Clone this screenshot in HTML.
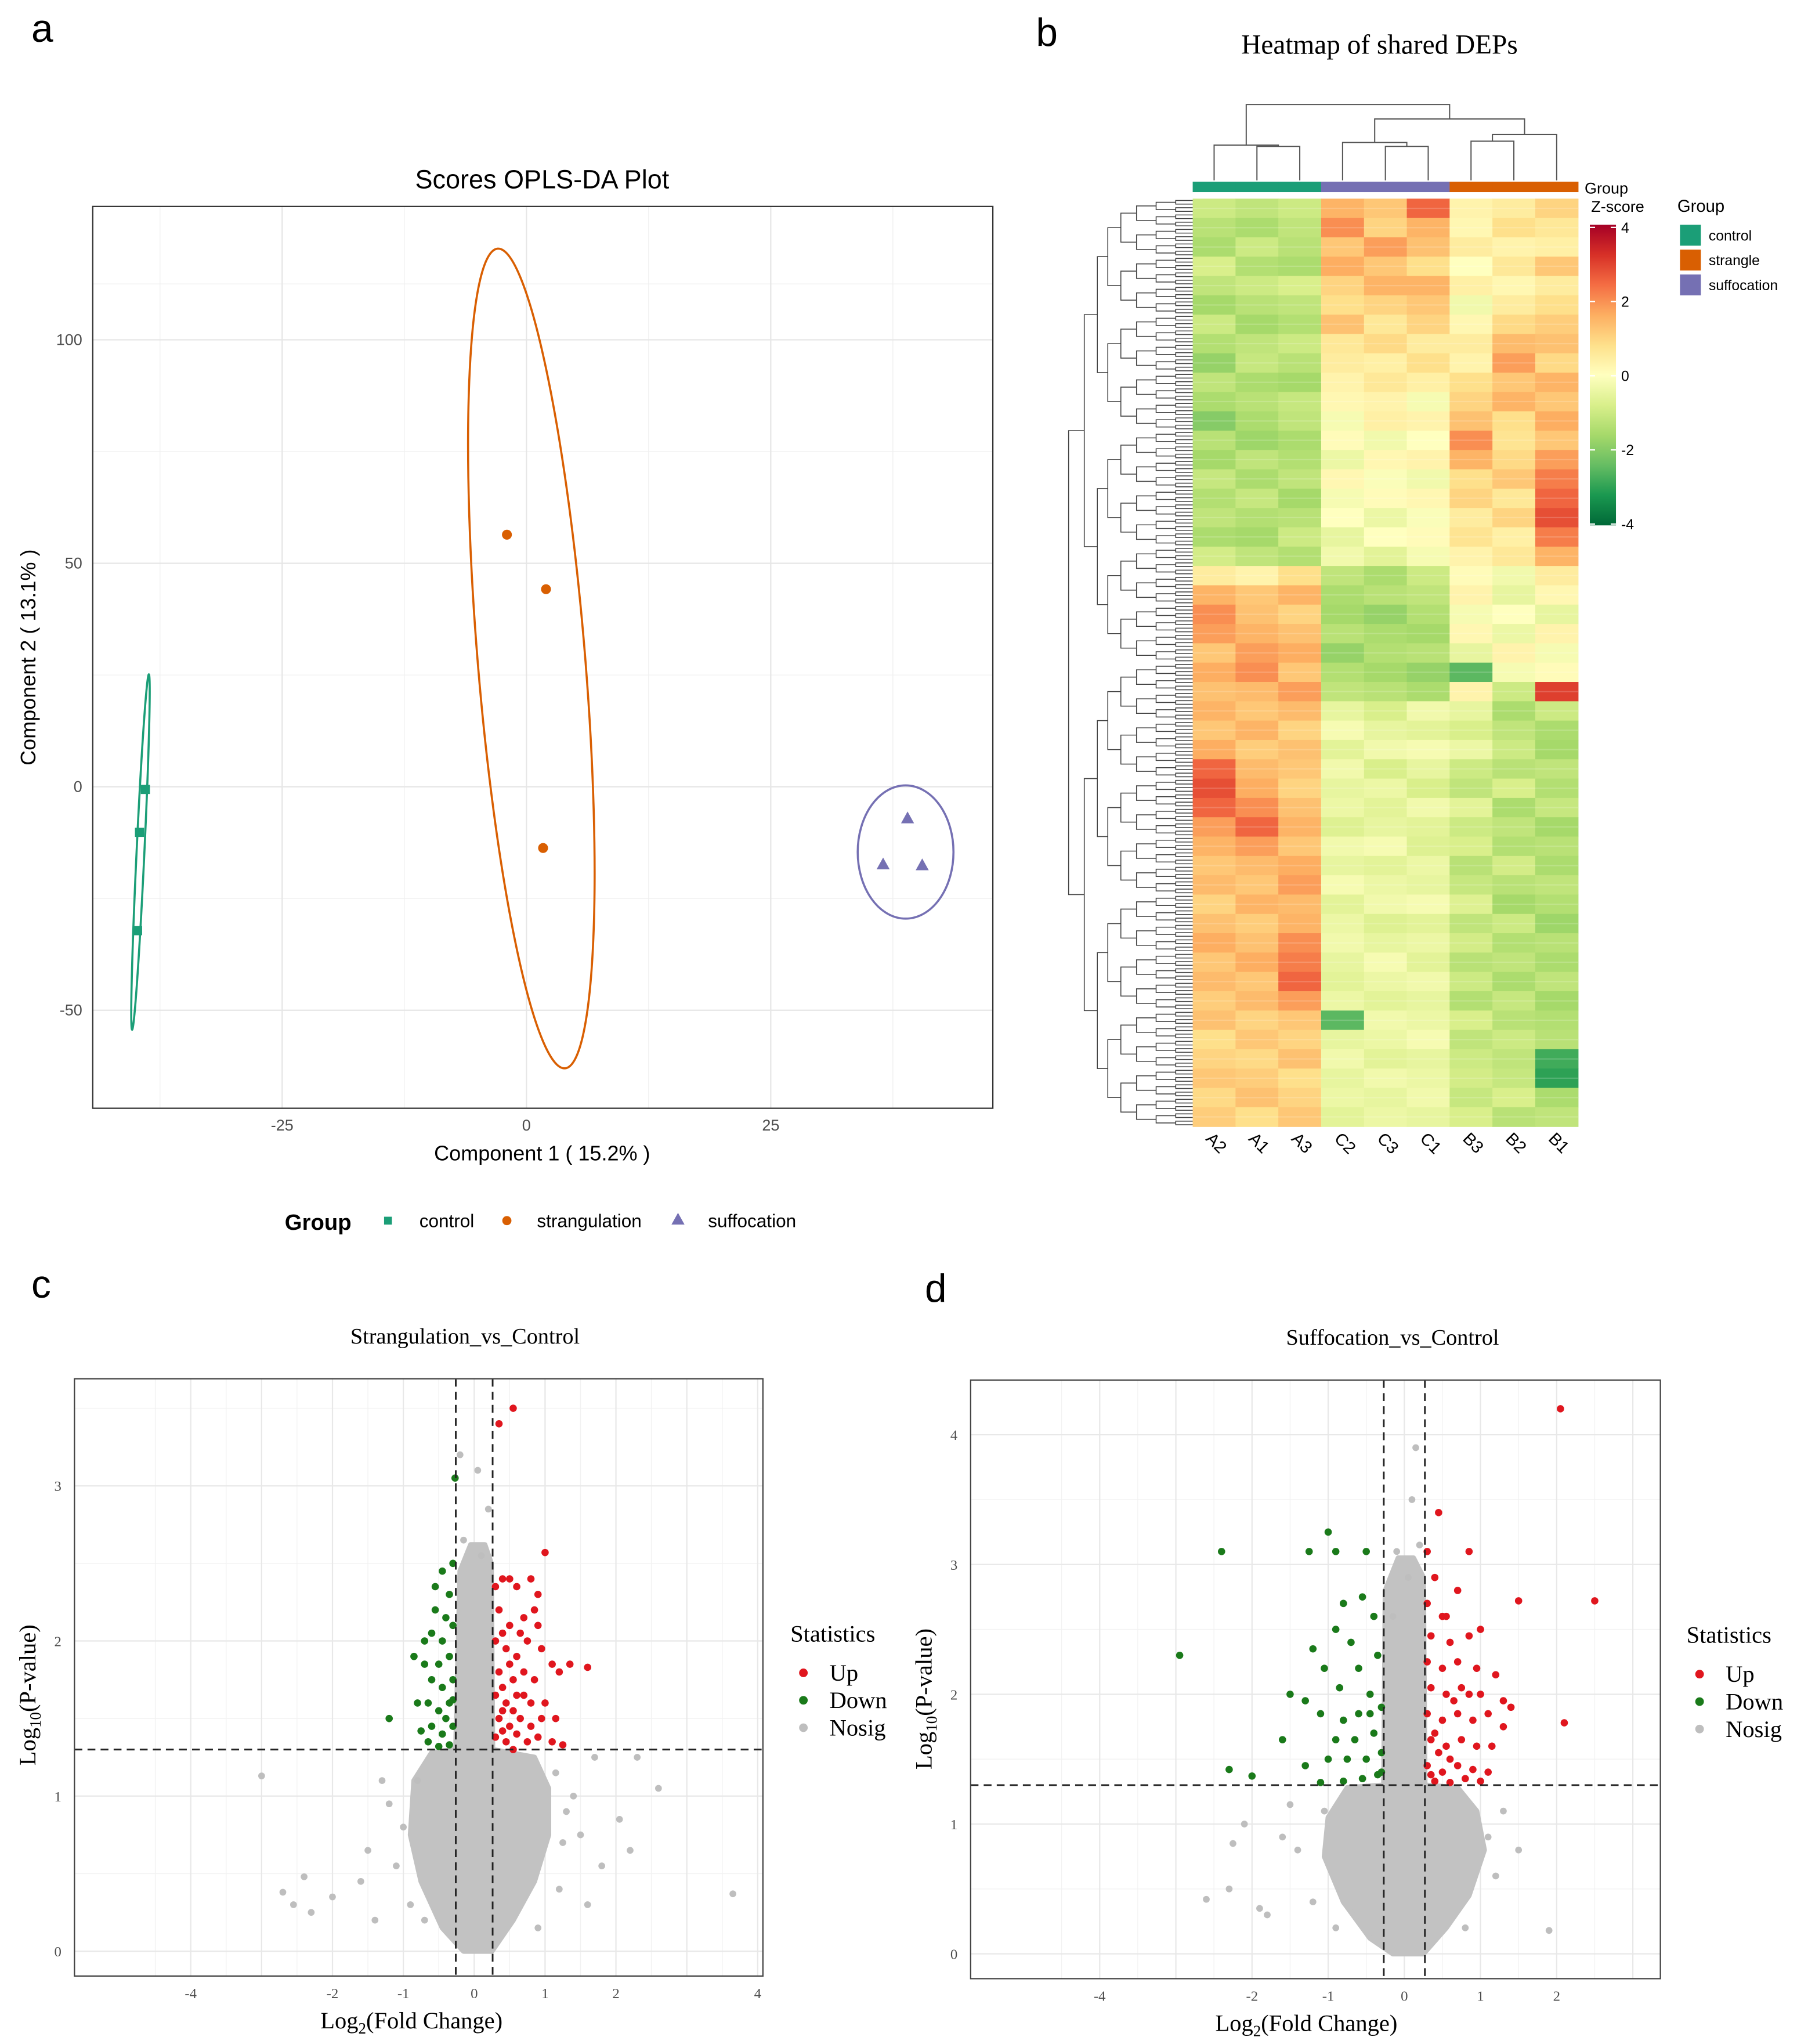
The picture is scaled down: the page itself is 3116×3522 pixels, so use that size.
<!DOCTYPE html>
<html><head><meta charset="utf-8"><style>
html,body{margin:0;padding:0;background:#fff;}
svg{display:block;}
.sans{font-family:"Liberation Sans",sans-serif;}
.serif{font-family:"Liberation Serif",serif;}
</style></head><body>
<svg id="fig" xmlns="http://www.w3.org/2000/svg" width="3116" height="3522" viewBox="0 0 1384 1564" preserveAspectRatio="none">
<rect x="0" y="0" width="1384" height="1564" fill="#fff"/>
</svg>
<script>
// ---------- Panel a data ----------
const aGroups=['control','strangulation','suffocation'];
const aControlX=[-39,-39.6,-39.8];
const aControlY=[-0.6,-10.2,-32.2];
const aStrangX=[-2,2,1.7];
const aStrangY=[56.4,44.2,-13.7];
const aSuffX=[39,36.5,40.5];
const aSuffY=[-7,-17.3,-17.5];
const aEllCx=[-39.5,0.5,38.8];
const aEllCy=[-14.6,28.7,-14.6];
const aEllRx=[0.4,5.5,4.9];
const aEllRy=[39.8,92,14.9];
const aEllRot=[2.7,-4.7,0];
const aXTicks=[-25,0,25];
const aYTicks=[-50,0,50,100];
// ---------- Panel b data ----------
const hmCols=['A2','A1','A3','C2','C3','C1','B3','B2','B1'];
const hmVals=[
[-1,-1.2,-1,1.5,1.2,2.5,0.3,0.5,1],[-1.3,-1.5,-1.2,2,1,1.5,0.2,0.8,0.6],[-1.5,-1,-1.3,1.2,1.8,1.3,0.5,0.3,0.4],
[-0.8,-1.4,-1.5,1.6,1.2,0.8,0,0.6,1.2],[-1.2,-1,-0.8,1,1.5,1.5,0.4,0.2,0.5],[-1.6,-1.3,-1.2,0.8,1,1.2,-0.3,0.5,0.8],
[-1,-1.6,-1.4,1.3,0.6,1,0.2,0.9,1.1],[-1.4,-1.2,-1,0.6,0.9,0.5,0.5,1.4,1.3],[-1.8,-1.1,-1.3,0.5,0.4,0.8,0.3,1.8,0.9],
[-1.2,-1.5,-1.6,0.3,0.6,0.4,0.8,1.2,1.5],[-1.5,-1.3,-1.1,0.2,0.3,-0.2,1,1.5,1.2],[-2,-1.5,-1.2,-0.2,0.4,0.3,1.3,0.8,1.6],
[-1.3,-1.7,-1.5,0.1,-0.3,0,2,0.7,1.2],[-1.6,-1.2,-1.4,-0.4,0.2,0.3,1.5,0.9,1.8],[-1.1,-1.5,-1.2,0.2,-0.1,-0.3,0.8,1.2,2.2],
[-1.4,-1.1,-1.6,-0.2,0.1,0.2,1,0.6,2.5],[-1.2,-1.4,-1.3,0,-0.4,-0.1,0.5,1,2.8],[-1.5,-1.6,-1,-0.5,0,0.1,0.7,0.4,2.2],
[-0.9,-1.2,-1.4,-0.3,-0.6,-0.2,0.3,0.6,1.5],[0.5,0.3,0.8,-1.2,-1.5,-1,0.1,-0.3,0.5],[1.5,1.2,1.5,-1.5,-1.3,-1.2,0.3,-0.5,0.2],
[2,1.3,1,-1.6,-1.8,-1.4,-0.2,0,-0.5],[1.8,1.5,1.3,-1.3,-1.5,-1.6,0.2,-0.4,0.3],[1.2,1.8,1.6,-1.8,-1.4,-1.3,-0.5,0.3,-0.2],
[1.6,2,1.2,-1.4,-1.6,-1.8,-2.5,-0.2,0.1],[1.3,1.4,1.8,-1.2,-1.3,-1.5,0.3,-1,3],[1.5,1.2,1.4,-0.5,-0.8,-0.3,-0.5,-1.5,-1],
[1.2,1.5,1,-0.2,-0.5,-0.6,-0.8,-1.2,-1.5],[1.6,1.1,1.3,-0.6,-0.3,-0.2,-0.4,-1,-1.6],[2.5,1.4,1.2,-0.3,-0.8,-0.5,-1,-1.3,-1.2],
[2.8,1.6,1,-0.5,-0.4,-0.8,-1.2,-0.8,-1.4],[2.5,2,1.3,-0.4,-0.6,-0.3,-0.6,-1.5,-1.1],[1.8,2.5,1.5,-0.7,-0.5,-0.6,-1,-1.2,-1.6],
[1.5,1.8,1.2,-0.3,-0.2,-0.7,-0.8,-1.4,-1.3],[1.2,1.4,1.6,-0.5,-0.6,-0.4,-1.3,-0.9,-1.5],[1.4,1.2,1.8,-0.2,-0.4,-0.5,-1.1,-1.3,-1.2],
[1,1.5,1.4,-0.6,-0.3,-0.2,-0.7,-1.6,-1.4],[1.3,1.1,1.5,-0.4,-0.7,-0.6,-1.2,-1,-1.7],[1.6,1.3,2,-0.3,-0.5,-0.4,-0.9,-1.4,-1.3],
[1.2,1.6,2.2,-0.5,-0.2,-0.6,-1.3,-1.2,-1.5],[1.4,1.2,2.5,-0.6,-0.4,-0.3,-1,-1.5,-1.2],[1.1,1.4,1.8,-0.4,-0.6,-0.5,-1.4,-1.1,-1.6],
[1.3,1,1.2,-2.5,-0.3,-0.4,-0.8,-1.3,-1.4],[0.8,1.2,1,-0.5,-0.4,-0.2,-1.2,-1,-1.3],[1,0.9,1.3,-0.3,-0.6,-0.5,-1,-1.2,-2.8],
[1.2,1.1,0.8,-0.5,-0.3,-0.4,-0.9,-1.1,-3],[0.9,1.3,1,-0.4,-0.5,-0.3,-1.1,-0.8,-1.5],[1.1,0.8,1.2,-0.6,-0.4,-0.5,-0.8,-1.3,-1.2]];
const zTicks=[4,2,0,-2,-4];
// ---------- Panel c data ----------
const cUp=[[0.35,3.4],[0.55,3.5],[1.0,2.57],[1.6,1.83],[1.35,1.85],[0.3,2.35],[0.4,2.4],[0.5,2.4],[0.6,2.35],[0.8,2.4],[0.9,2.3],[0.35,2.2],[0.5,2.1],[0.7,2.15],[0.9,2.1],[0.3,2.0],[0.45,1.95],[0.6,1.9],[0.75,2.0],[0.95,1.95],[1.1,1.85],[0.35,1.8],[0.55,1.75],[0.7,1.8],[0.85,1.75],[1.2,1.8],[0.3,1.65],[0.45,1.6],[0.6,1.65],[0.8,1.6],[1.0,1.6],[0.35,1.5],[0.5,1.45],[0.65,1.5],[0.8,1.45],[0.95,1.5],[1.15,1.5],[0.3,1.38],[0.45,1.35],[0.6,1.4],[0.75,1.35],[0.9,1.38],[1.1,1.35],[1.25,1.33],[0.4,1.55],[0.55,1.3],[0.7,1.65],[0.85,2.2],[0.4,2.05],[0.65,2.05],[0.4,1.7],[0.5,1.85],[0.4,1.42],[0.55,1.55]];
const cDown=[[-0.27,3.05],[-1.2,1.5],[-0.3,2.5],[-0.45,2.45],[-0.35,2.3],[-0.55,2.2],[-0.3,2.1],[-0.45,2.0],[-0.6,2.05],[-0.35,1.9],[-0.5,1.85],[-0.7,1.85],[-0.85,1.9],[-0.3,1.75],[-0.45,1.7],[-0.6,1.75],[-0.35,1.6],[-0.5,1.55],[-0.65,1.6],[-0.8,1.6],[-0.3,1.45],[-0.45,1.4],[-0.6,1.45],[-0.75,1.42],[-0.35,1.33],[-0.5,1.32],[-0.65,1.35],[-0.4,2.15],[-0.55,2.35],[-0.7,2.0],[-0.4,1.5],[-0.3,1.62]];
const cGray=[[-3.0,1.13],[-2.7,0.38],[-2.55,0.3],[-2.4,0.48],[-2.3,0.25],[-2.0,0.35],[-1.5,0.65],[-1.4,0.2],[-1.3,1.1],[-1.2,0.95],[-1.6,0.45],[1.7,1.25],[2.3,1.25],[2.6,1.05],[2.2,0.65],[2.05,0.85],[1.8,0.55],[1.5,0.75],[3.65,0.37],[1.6,0.3],[-1.1,0.55],[1.4,1.0],[0.2,2.85],[0.1,2.55],[-0.15,2.65],[0.05,3.1],[-0.2,3.2],[1.3,0.9],[1.2,0.4],[-0.9,0.3],[-1.0,0.8],[-0.8,1.1],[1.15,1.15],[1.25,0.7],[-0.7,0.2],[0.9,0.15]];
const cCloud=[[-0.15,0],[0.25,0],[0.55,0.2],[0.85,0.45],[1.05,0.75],[1.05,1.05],[0.85,1.25],[0.26,1.3],[0.24,2.5],[0.15,2.62],[-0.05,2.62],[-0.2,2.45],[-0.26,1.3],[-0.6,1.28],[-0.85,1.1],[-0.9,0.75],[-0.75,0.45],[-0.45,0.15]];
// ---------- Panel d data ----------
const dUp=[[2.05,4.2],[2.5,2.72],[1.5,2.72],[2.1,1.78],[0.85,3.1],[0.45,3.4],[0.3,3.1],[0.4,2.9],[0.3,2.7],[0.5,2.6],[0.7,2.8],[0.35,2.45],[0.6,2.4],[0.85,2.45],[1.0,2.5],[0.3,2.25],[0.5,2.2],[0.7,2.25],[0.95,2.2],[1.2,2.15],[0.35,2.05],[0.55,2.0],[0.75,2.05],[1.0,2.0],[1.3,1.95],[1.4,1.9],[0.3,1.85],[0.5,1.8],[0.7,1.85],[0.9,1.8],[1.1,1.85],[1.3,1.75],[0.35,1.65],[0.55,1.6],[0.75,1.65],[0.95,1.6],[1.15,1.6],[0.3,1.45],[0.5,1.4],[0.7,1.45],[0.9,1.42],[1.1,1.4],[0.4,1.33],[0.6,1.32],[0.8,1.35],[1.0,1.33],[0.45,1.55],[0.65,1.95],[0.85,2.0],[0.55,2.6],[0.4,1.7],[0.6,1.5],[0.35,1.38]];
const dDown=[[-2.95,2.3],[-2.4,3.1],[-2.3,1.42],[-1.25,3.1],[-1.0,3.25],[-2.0,1.37],[-0.9,3.1],[-0.5,3.1],[-0.8,2.7],[-0.55,2.75],[-1.05,2.2],[-0.9,2.5],[-0.4,2.6],[-0.7,2.4],[-0.35,2.3],[-0.6,2.2],[-0.85,2.05],[-1.5,2.0],[-1.3,1.95],[-0.45,2.0],[-0.3,1.9],[-0.6,1.85],[-0.8,1.8],[-1.1,1.85],[-0.4,1.7],[-0.65,1.65],[-0.9,1.65],[-1.6,1.65],[-0.3,1.55],[-0.5,1.5],[-0.75,1.5],[-1.0,1.5],[-1.3,1.45],[-0.35,1.38],[-0.55,1.35],[-0.8,1.33],[-1.1,1.32],[-0.45,1.85],[-1.2,2.35],[-0.3,1.4]];
const dGray=[[-2.6,0.42],[-2.3,0.5],[-2.25,0.85],[-1.9,0.35],[-1.8,0.3],[-2.1,1.0],[-1.5,1.15],[-1.4,0.8],[1.9,0.18],[1.3,1.1],[1.5,0.8],[1.2,0.6],[0.15,3.9],[0.1,3.5],[0.2,3.15],[-0.1,3.1],[0.05,2.9],[-0.15,2.6],[-1.6,0.9],[-1.2,0.4],[-1.05,1.1],[1.1,0.9],[-0.9,0.2],[0.8,0.2]];
const dCloud=[[-0.15,0],[0.25,0],[0.55,0.2],[0.85,0.45],[1.05,0.8],[0.95,1.1],[0.7,1.28],[0.27,1.3],[0.25,2.9],[0.12,3.05],[-0.08,3.05],[-0.25,2.8],[-0.27,1.3],[-0.75,1.28],[-1.0,1.05],[-1.05,0.75],[-0.8,0.4],[-0.45,0.12]];
const vTicksX=[-4,-2,-1,0,1,2,4];

const svg=document.getElementById('fig');
const NS='http://www.w3.org/2000/svg';
function mk(tag,attrs,parent){const e=document.createElementNS(NS,tag);for(const k in attrs)e.setAttribute(k,attrs[k]);(parent||svg).appendChild(e);return e;}
function txt(s,attrs,parent){const e=mk('text',attrs,parent);e.textContent=s;return e;}

// ===== Panel a =====
const ga=mk('g',{});


let t=txt('a',{x:24,y:32,'font-size':30,class:'sans'},ga);

t=txt('Scores OPLS-DA Plot',{x:415,y:144,'font-size':20,'text-anchor':'middle',class:'sans'},ga);

const aL=71,aR=760,aT=158,aB=848;
const ax=v=>403+v*7.48, ay=v=>602-v*3.42;
[-37.5,-12.5,12.5,37.5].forEach(v=>mk('line',{x1:ax(v),x2:ax(v),y1:aT,y2:aB,stroke:'#f0f0f0','stroke-width':0.6},ga));
[-25,25,75,112.5].forEach(v=>mk('line',{x1:aL,x2:aR,y1:ay(v),y2:ay(v),stroke:'#f0f0f0','stroke-width':0.6},ga));
aXTicks.forEach(v=>{mk('line',{x1:ax(v),x2:ax(v),y1:aT,y2:aB,stroke:'#e6e6e6','stroke-width':1},ga);
 const l=txt(String(v),{x:ax(v),y:aB+17,'font-size':12,'text-anchor':'middle',fill:'#4d4d4d',class:'sans'},ga);
 });
aYTicks.forEach(v=>{mk('line',{x1:aL,x2:aR,y1:ay(v),y2:ay(v),stroke:'#e6e6e6','stroke-width':1},ga);
 const l=txt(String(v),{x:aL-8,y:ay(v)+4,'font-size':12,'text-anchor':'end',fill:'#4d4d4d',class:'sans'},ga);
 });
let r=mk('rect',{x:aL,y:aT,width:aR-aL,height:aB-aT,fill:'none',stroke:'#333','stroke-width':1},ga);

t=txt('Component 1 ( 15.2% )',{x:415,y:888,'font-size':16,'text-anchor':'middle',class:'sans'},ga);

t=txt('Component 2 ( 13.1% )',{x:0,y:0,'font-size':16,'text-anchor':'middle',class:'sans',transform:'translate(27,503) rotate(-90)'},ga);

const aCol=['#1b9e77','#d95f02','#7570b3'];
aEllCx.forEach((c,i)=>{const e=mk('ellipse',{cx:0,cy:0,rx:aEllRx[i]*7.48,ry:aEllRy[i]*3.42,fill:'none',stroke:aCol[i],'stroke-width':1.6,transform:`translate(${ax(c)},${ay(aEllCy[i])}) rotate(${aEllRot[i]})`},ga);
 });
aControlX.forEach((v,i)=>{const e=mk('rect',{x:ax(v)-3.5,y:ay(aControlY[i])-3.5,width:7,height:7,fill:aCol[0]},ga);
 });
aStrangX.forEach((v,i)=>{const e=mk('circle',{cx:ax(v),cy:ay(aStrangY[i]),r:3.8,fill:aCol[1]},ga);
 });
aSuffX.forEach((v,i)=>{const x=ax(v),y=ay(aSuffY[i]);const e=mk('polygon',{points:`${x},${y-5} ${x-5},${y+4} ${x+5},${y+4}`,fill:aCol[2]},ga);
 });
const lg=mk('g',{},ga);
txt('Group',{x:218,y:941,'font-size':17,'font-weight':'bold',class:'sans'},lg);
let le=mk('rect',{x:294,y:931,width:6,height:6,fill:aCol[0]},lg);
txt('control',{x:321,y:939,'font-size':14,class:'sans'},lg);
le=mk('circle',{cx:388,cy:934,r:3.5,fill:aCol[1]},lg);
txt('strangulation',{x:411,y:939,'font-size':14,class:'sans'},lg);
le=mk('polygon',{points:'519,928 514,937 524,937',fill:aCol[2]},lg);
txt('suffocation',{x:542,y:939,'font-size':14,class:'sans'},lg);

// ===== Panel b =====
const gb=mk('g',{});
t=txt('b',{x:793,y:35,'font-size':30,class:'sans'},gb);
t=txt('Heatmap of shared DEPs',{x:1056,y:41,'font-size':21,'text-anchor':'middle',class:'serif'},gb);

const stops=[[-4,[0,104,55]],[-3.2,[26,152,80]],[-2.4,[102,189,99]],[-1.6,[166,217,106]],[-0.8,[217,239,139]],[0,[255,255,191]],[0.8,[254,224,139]],[1.6,[253,174,97]],[2.4,[244,109,67]],[3.2,[215,48,39]],[4,[165,0,38]]];
function zc(v){v=Math.max(-4,Math.min(4,v));for(let i=0;i<stops.length-1;i++){const a=stops[i],b=stops[i+1];if(v<=b[0]){const f=(v-a[0])/(b[0]-a[0]);return 'rgb('+a[1].map((c,k)=>Math.round(c+(b[1][k]-c)*f)).join(',')+')';}}return 'rgb(165,0,38)';}
const hL=913,hR=1208,hT=152,hB=862;
const cw=(hR-hL)/hmCols.length, rh=(hB-hT)/hmVals.length;
const hx=i=>hL+i*cw, hy=j=>hT+j*rh;
const hg=mk('g',{},gb);
hmVals.forEach((row,j)=>row.forEach((v,i)=>{const c=mk('rect',{x:hx(i),y:hy(j),width:cw+0.3,height:rh+0.3,fill:zc(v)},hg);
 }));
for(let j=0;j<hmVals.length;j++){mk('line',{x1:hL,x2:hR,y1:hy(j)+rh*0.5,y2:hy(j)+rh*0.5,stroke:'#fff','stroke-opacity':0.18,'stroke-width':1},hg);}
const grpColCols=['#1b9e77','#1b9e77','#1b9e77','#7570b3','#7570b3','#7570b3','#d95f02','#d95f02','#d95f02'];
grpColCols.forEach((c,i)=>{const e=mk('rect',{x:hx(i),y:139,width:cw+0.3,height:8,fill:c},gb);});
hmCols.forEach((c,i)=>{const l=txt(c,{x:0,y:0,'font-size':13,class:'sans',transform:`translate(${hx(i)+cw/2-7},${872}) rotate(45)`},gb);
 });
const cx=i=>hx(i)+cw/2;
const dg=mk('g',{stroke:'#555','stroke-width':0.9,fill:'none'},gb);
function br(x1,y1,x2,y2,top){mk('path',{d:`M${x1},${y1}V${top}H${x2}V${y2}`},dg);}
br(cx(1),138,cx(2),138,112);br(cx(0),138,(cx(1)+cx(2))/2,112,111);
br(cx(4),138,cx(5),138,112);br(cx(3),138,(cx(4)+cx(5))/2,112,109);
br(cx(6),138,cx(7),138,108);br((cx(6)+cx(7))/2,108,cx(8),138,103);
br((cx(3)+(cx(4)+cx(5))/2)/2,109,((cx(6)+cx(7))/2+cx(8))/2,103,91);
const cxA=(cx(0)+(cx(1)+cx(2))/2)/2, cxCB=((cx(3)+(cx(4)+cx(5))/2)/2+((cx(6)+cx(7))/2+cx(8))/2)/2;
br(cxA,111,cxCB,91,80);
const rg=mk('g',{stroke:'#444','stroke-width':0.7,fill:'none'},gb);
const N=256, leafH=(hB-hT)/N;
let nodes=[];for(let k=0;k<N;k++)nodes.push({y:hT+(k+0.5)*leafH,x:913});
const lvX=[900,885,870,858,848,840,830,818];
let lvl=0;
while(nodes.length>1){const nx=[];const X=lvX[lvl]||818;for(let k=0;k<nodes.length;k+=2){const a=nodes[k],b=nodes[k+1];mk('path',{d:`M${a.x},${a.y}H${X}V${b.y}H${b.x}`},rg);nx.push({x:X,y:(a.y+b.y)/2});}nodes=nx;lvl++;}
const zg=mk('g',{},gb);
txt('Group',{x:1213,y:148,'font-size':12,class:'sans'},zg);
txt('Z-score',{x:1218,y:162,'font-size':12,class:'sans'},zg);
const defs=mk('defs',{});const lgd=mk('linearGradient',{id:'zg',x1:0,y1:0,x2:0,y2:1},defs);
for(let v=4;v>=-4;v-=0.8){mk('stop',{offset:(4-v)/8,'stop-color':zc(v)},lgd);}
mk('rect',{x:1217,y:172,width:20,height:230,fill:'url(#zg)'},zg);
const zy=v=>174+(4-v)*(401-174)/8;
zTicks.forEach(v=>{mk('line',{x1:1217,x2:1221,y1:zy(v),y2:zy(v),stroke:'#fff'},zg);mk('line',{x1:1233,x2:1237,y1:zy(v),y2:zy(v),stroke:'#fff'},zg);
 const l=txt(String(v),{x:1241,y:zy(v)+4,'font-size':11,class:'sans'},zg);});
const gg=mk('g',{},gb);
txt('Group',{x:1284,y:162,'font-size':13,class:'sans'},gg);
[['control','#1b9e77'],['strangle','#d95f02'],['suffocation','#7570b3']].forEach((p,i)=>{
 const e=mk('rect',{x:1286,y:172+i*19,width:16,height:16,fill:p[1]},gg);
 txt(p[0],{x:1308,y:184+i*19,'font-size':11,class:'sans'},gg);});

// ===== volcano panels =====
function volcano(o){
 const g=mk('g',{});
 let t=txt(o.label,{x:o.labX,y:o.labY,'font-size':30,class:'sans'},g);
 t=txt(o.title,{x:o.titleX,y:o.T-27,'font-size':17,'text-anchor':'middle',class:'serif'},g);
 const X=v=>o.x0+v*o.sx, Y=v=>o.y0-v*o.sy;
 for(let v=-5;v<=4;v+=1){if(X(v+0.5)>o.L&&X(v+0.5)<o.R)mk('line',{x1:X(v+0.5),x2:X(v+0.5),y1:o.T,y2:o.B,stroke:'#f2f2f2','stroke-width':0.6},g);}
 for(let v=0;v<=o.yMax;v+=1){if(Y(v+0.5)>o.T)mk('line',{x1:o.L,x2:o.R,y1:Y(v+0.5),y2:Y(v+0.5),stroke:'#f2f2f2','stroke-width':0.6},g);}
 [-4,-3,-2,-1,0,1,2,3,4].forEach(v=>{if(X(v)>o.L&&X(v)<o.R)mk('line',{x1:X(v),x2:X(v),y1:o.T,y2:o.B,stroke:'#e8e8e8','stroke-width':1},g);});
 for(let v=0;v<=o.yMax;v++){mk('line',{x1:o.L,x2:o.R,y1:Y(v),y2:Y(v),stroke:'#e8e8e8','stroke-width':1},g);
  const l=txt(String(v),{x:o.L-10,y:Y(v)+4,'font-size':11,'text-anchor':'end',fill:'#4d4d4d',class:'serif'},g);}
 vTicksX.forEach(v=>{if(X(v)>o.R+4)return;const l=txt(String(v),{x:X(v),y:o.B+17,'font-size':11,'text-anchor':'middle',fill:'#4d4d4d',class:'serif'},g);});
 const cl=mk('polygon',{points:o.cloud.map(p=>X(p[0])+','+Y(p[1])).join(' '),fill:'#c2c2c2',stroke:'#c2c2c2','stroke-width':4,'stroke-linejoin':'round'},g);
 
 o.gray.forEach(p=>{const c=mk('circle',{cx:X(p[0]),cy:Y(p[1]),r:2.6,fill:'#bebebe'},g);});
 o.down.forEach(p=>{const c=mk('circle',{cx:X(p[0]),cy:Y(p[1]),r:2.8,fill:'#1a7a1a'},g);});
 o.up.forEach(p=>{const c=mk('circle',{cx:X(p[0]),cy:Y(p[1]),r:2.8,fill:'#e0161e'},g);});
 [-o.fc,o.fc].forEach(v=>{const l=mk('line',{x1:X(v),x2:X(v),y1:o.T,y2:o.B,stroke:'#222','stroke-width':1.3,'stroke-dasharray':'6,4'},g);});
 const hl=mk('line',{x1:o.L,x2:o.R,y1:Y(1.3),y2:Y(1.3),stroke:'#222','stroke-width':1.3,'stroke-dasharray':'6,4'},g);
 const b=mk('rect',{x:o.L,y:o.T,width:o.R-o.L,height:o.B-o.T,fill:'none',stroke:'#444','stroke-width':1},g);
 t=mk('text',{x:o.xlabX,y:o.B+40,'font-size':18,'text-anchor':'middle',class:'serif'},g);t.innerHTML=o.xlab;
 t=mk('text',{x:0,y:0,'font-size':18,'text-anchor':'middle',class:'serif',transform:`translate(${o.L-30},${o.ylabY}) rotate(-90)`},g);t.innerHTML=o.ylab;
 const lg=mk('g',{},g);
 txt('Statistics',{x:o.lgX,y:o.lgY,'font-size':18,class:'serif'},lg);
 [['Up','#e0161e'],['Down','#1a7a1a'],['Nosig','#bebebe']].forEach((p,i)=>{const c=mk('circle',{cx:o.lgX+10,cy:o.lgY+24+i*21,r:3.3,fill:p[1]},lg);
  
  txt(p[0],{x:o.lgX+30,y:o.lgY+30+i*21,'font-size':18,class:'serif'},lg);});
}
volcano({name:'volcano-strangulation',label:'c',labX:24,labY:993,title:'Strangulation_vs_Control',titleX:356,L:57,R:584,T:1055,B:1512,x0:363,sx:54.25,y0:1493,sy:118.7,yMax:3,fc:0.26,
 cloud:cCloud,gray:cGray,up:cUp,down:cDown,lgX:605,lgY:1256,xlabX:315,ylabY:1297,
 xlab:'Log<tspan font-size="12" dy="4">2</tspan><tspan dy="-4">(Fold Change)</tspan>',ylab:'Log<tspan font-size="12" dy="4">10</tspan><tspan dy="-4">(P-value)</tspan>'});
volcano({name:'volcano-suffocation',label:'d',labX:708,labY:996,title:'Suffocation_vs_Control',titleX:1066,L:743,R:1271,T:1056,B:1514,x0:1075,sx:58.3,y0:1495,sy:99.3,yMax:4,fc:0.27,
 cloud:dCloud,gray:dGray,up:dUp,down:dDown,lgX:1291,lgY:1257,xlabX:1000,ylabY:1300,
 xlab:'Log<tspan font-size="12" dy="4">2</tspan><tspan dy="-4">(Fold Change)</tspan>',ylab:'Log<tspan font-size="12" dy="4">10</tspan><tspan dy="-4">(P-value)</tspan>'});
</script>
</body></html>
